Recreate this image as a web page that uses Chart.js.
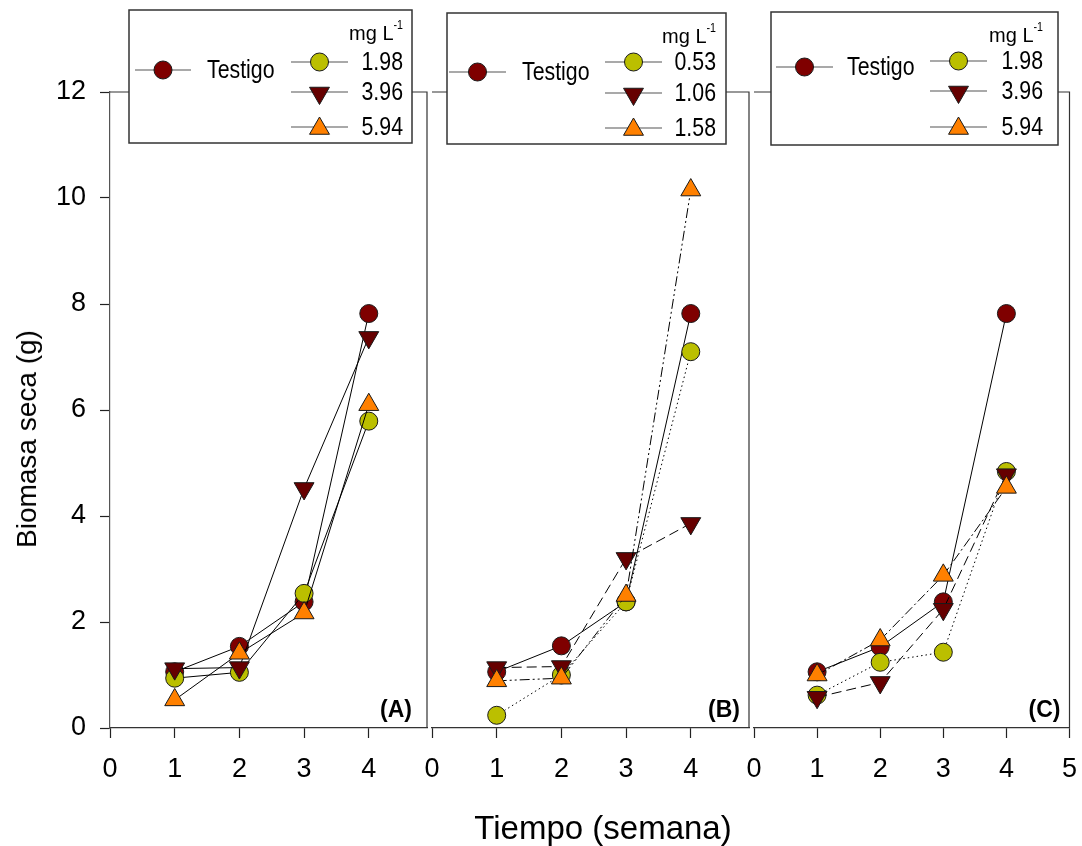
<!DOCTYPE html>
<html><head><meta charset="utf-8">
<script src="https://cdn.jsdelivr.net/npm/chart.js@4.4.1/dist/chart.umd.min.js"></script>
<style>
html,body{margin:0;padding:0;background:#fff;width:1082px;height:846px;overflow:hidden;}
#wrap{position:relative;width:1082px;height:846px;background:#fff;}
canvas{position:absolute;left:0;top:0;}
.title{position:absolute;font-family:'Liberation Sans',Arial,sans-serif;color:#000;white-space:nowrap;}
#xt{left:603px;top:828px;font-size:33px;transform:translate(-50%,-50%);}
#yt{left:27px;top:439px;font-size:28px;transform:translate(-50%,-50%) rotate(-90deg);}
</style></head><body>
<div id="wrap">
<canvas id="cA" width="1082" height="846"></canvas>
<canvas id="cB" width="1082" height="846"></canvas>
<canvas id="cC" width="1082" height="846"></canvas>
<div id="xt" class="title">Tiempo (semana)</div>
<div id="yt" class="title">Biomasa seca (g)</div>
</div>
<script>
// ---------- data ----------
const weeks = [1, 2, 3, 4];
const yTicks = [0, 2, 4, 6, 8, 10, 12];
const xTicksAB = [0, 1, 2, 3, 4];
const xTicksC = [0, 1, 2, 3, 4, 5];
const panelLabels = ['(A)', '(B)', '(C)'];
const unitLabel = 'mg L';
const unitSup = '-1';

const labelsA = ['Testigo', '1.98', '3.96', '5.94'];
const labelsB = ['Testigo', '0.53', '1.06', '1.58'];
const labelsC = ['Testigo', '1.98', '3.96', '5.94'];

const testigoA = [1.06, 1.54, 2.38, 7.82];
const a198 = [0.94, 1.05, 2.54, 5.79];
const a396 = [1.12, 1.14, 4.52, 7.37];
const a594 = [0.53, 1.41, 2.17, 6.10];

const testigoB = [1.06, 1.55, 2.38, 7.82];
const b053 = [0.24, 1.00, 2.38, 7.10];
const b106 = [1.14, 1.16, 3.20, 3.86];
const b158 = [0.89, 0.94, 2.50, 10.15];

const testigoC = [1.06, 1.53, 2.38, 7.82];
const c198 = [0.62, 1.24, 1.43, 4.84];
const c396 = [0.58, 0.86, 2.24, 4.78];
const c594 = [1.00, 1.66, 2.88, 4.54];

// ---------- styles ----------
const REG = "'Liberation Sans',Arial,sans-serif";
const NARROW_K = 0.82;
const markerStyles = [
  {shape: 'circle', rot: 0, r: 9, fill: '#7f0000'},
  {shape: 'circle', rot: 0, r: 9, fill: '#bbbf00'},
  {shape: 'triangle', rot: 180, r: 11.5, fill: '#660000'},
  {shape: 'triangle', rot: 0, r: 11.5, fill: '#ff8000'}
];
const DOT = [1.5, 3], DASH = [10, 5], DASHDOTDOT = [10, 3, 2, 3, 2, 3], DASHDOT = [10, 3, 2, 3];

function ds(label, values, idx, dash) {
  const s = markerStyles[idx];
  return {
    label,
    data: weeks.map((w, i) => ({x: w, y: values[i]})),
    showLine: true, fill: false, tension: 0,
    borderColor: '#000', borderWidth: 1, borderDash: dash,
    pointStyle: s.shape, pointRotation: s.rot, pointRadius: s.r, pointHoverRadius: s.r,
    pointBackgroundColor: s.fill, pointBorderColor: '#1a1a1a', pointBorderWidth: 1,
    order: 4 - idx, clip: false
  };
}

function drawMarker(ctx, s, x, y) {
  ctx.save();
  ctx.fillStyle = s.fill; ctx.strokeStyle = '#1a1a1a'; ctx.lineWidth = 1;
  Chart.helpers.drawPoint(ctx, {pointStyle: s.shape, rotation: s.rot, radius: s.r, borderWidth: 1}, x, y);
  ctx.restore();
}

// condensed (Arial-Narrow-like) text
function narrowText(ctx, text, x, y, align, baseline, size, k) {
  const kk = k || NARROW_K;
  ctx.save();
  ctx.translate(x, y);
  ctx.scale(kk, 1);
  ctx.font = size + 'px ' + REG;
  ctx.textAlign = align; ctx.textBaseline = baseline;
  ctx.fillStyle = '#000';
  ctx.fillText(text, 0, 0);
  ctx.restore();
}
function narrowWidth(ctx, text, size, k) {
  const kk = k || NARROW_K;
  ctx.save(); ctx.font = size + 'px ' + REG;
  const w = ctx.measureText(text).width * kk;
  ctx.restore(); return w;
}

const framePlugin = {
  id: 'frame',
  afterDraw(chart, args, opts) {
    const {ctx, chartArea: a} = chart;
    ctx.save();
    ctx.strokeStyle = '#333'; ctx.lineWidth = 1.2;
    ctx.beginPath();
    ctx.moveTo(a.left, a.top); ctx.lineTo(a.right, a.top); ctx.lineTo(a.right, a.bottom);
    ctx.stroke();
    // panel label
    ctx.fillStyle = '#000';
    ctx.font = 'bold 23px ' + REG;
    ctx.textAlign = 'right'; ctx.textBaseline = 'alphabetic';
    ctx.fillText(opts.label, a.right - opts.labelDx, a.bottom - 11);
    // legend
    const L = opts.legend;
    ctx.fillStyle = '#fff';
    ctx.fillRect(L.x, L.y, L.w, L.h);
    ctx.strokeStyle = '#333'; ctx.lineWidth = 1.5;
    ctx.strokeRect(L.x, L.y, L.w, L.h);
    const dsets = chart.data.datasets;
    ctx.strokeStyle = '#555'; ctx.lineWidth = 1.2;
    // Testigo
    ctx.beginPath();
    ctx.moveTo(L.x + L.t0, L.y + L.ty); ctx.lineTo(L.x + L.t1, L.y + L.ty); ctx.stroke();
    drawMarker(ctx, markerStyles[0], L.x + (L.t0 + L.t1) / 2, L.y + L.ty);
    narrowText(ctx, dsets[0].label, L.x + L.tx, L.y + L.ty + 1, 'left', 'middle', 26);
    // right column
    for (let i = 1; i < 4; i++) {
      const yy = L.y + L.rows[i - 1];
      ctx.strokeStyle = '#555'; ctx.lineWidth = 1.2;
      ctx.beginPath(); ctx.moveTo(L.x + L.c0, yy); ctx.lineTo(L.x + L.c1, yy); ctx.stroke();
      drawMarker(ctx, markerStyles[i], L.x + (L.c0 + L.c1) / 2, yy + (i === 2 ? 1 : (i === 3 ? 1.5 : 0)));
      narrowText(ctx, dsets[i].label, L.x + L.cx, yy + 1, 'right', 'middle', 26);
    }
    // unit header
    const supW = narrowWidth(ctx, unitSup, 13);
    narrowText(ctx, unitSup, L.x + L.cx, L.y + 19, 'right', 'alphabetic', 13);
    narrowText(ctx, unitLabel, L.x + L.cx - supW, L.y + 30, 'right', 'alphabetic', 20, 1);
    ctx.restore();
  }
};

function makePanel(id, datasets, xTicks, xMax, left, right, showY, label, labelDx, legend) {
  const tickFont = {family: REG, size: 27};
  return new Chart(document.getElementById(id), {
    type: 'line',
    data: {datasets},
    options: {
      responsive: false, animation: false, devicePixelRatio: 1, events: [],
      layout: {padding: {left: left, right: 1082 - right, top: 92, bottom: 0}},
      plugins: {legend: {display: false}, tooltip: {enabled: false}, frame: {label, labelDx, legend}},
      scales: {
        x: {
          type: 'linear', min: 0, max: xMax,
          afterBuildTicks: s => { s.ticks = xTicks.map(v => ({value: v})); },
          afterFit: s => { s.height = 118; s.paddingLeft = 0; s.paddingRight = 0; },
          ticks: {font: tickFont, color: '#000', padding: 15, maxRotation: 0, autoSkip: false},
          grid: {drawOnChartArea: false, drawTicks: true, tickLength: 10, tickColor: '#222', tickWidth: 1.2},
          border: {display: true, color: '#333', width: 1.2}
        },
        y: {
          type: 'linear', min: 0, max: 12, display: showY,
          afterBuildTicks: s => { s.ticks = yTicks.map(v => ({value: v})); },
          afterFit: s => { s.width = showY ? 110 : 0; s.paddingTop = 0; s.paddingBottom = 0; },
          ticks: {font: tickFont, color: '#000', padding: 14},
          grid: {drawOnChartArea: false, drawTicks: true, tickLength: 10, tickColor: '#222', tickWidth: 1.2},
          border: {display: true, color: '#555', width: 1.2}
        }
      }
    },
    plugins: [framePlugin]
  });
}

makePanel('cA', [
  ds(labelsA[0], testigoA, 0, []), ds(labelsA[1], a198, 1, []),
  ds(labelsA[2], a396, 2, []), ds(labelsA[3], a594, 3, [])
], xTicksAB, 4.9, 0, 427, true, panelLabels[0], 15,
  {x: 129, y: 10, w: 283, h: 133, t0: 6, t1: 62, ty: 60, tx: 78, c0: 162, c1: 219, cx: 274, rows: [52, 82, 117]});

makePanel('cB', [
  ds(labelsB[0], testigoB, 0, []), ds(labelsB[1], b053, 1, DOT),
  ds(labelsB[2], b106, 2, DASH), ds(labelsB[3], b158, 3, DASHDOTDOT)
], xTicksAB, 4.9, 432, 749, false, panelLabels[1], 9,
  {x: 447, y: 13, w: 279, h: 131, t0: 2, t1: 59, ty: 59, tx: 75, c0: 158, c1: 215, cx: 269, rows: [49, 80, 115]});

makePanel('cC', [
  ds(labelsC[0], testigoC, 0, []), ds(labelsC[1], c198, 1, DOT),
  ds(labelsC[2], c396, 2, DASH), ds(labelsC[3], c594, 3, DASHDOT)
], xTicksC, 5, 754, 1071, false, panelLabels[2], 9,
  {x: 771, y: 12, w: 287, h: 133, t0: 5, t1: 62, ty: 55, tx: 76, c0: 159, c1: 216, cx: 272, rows: [49, 79, 115]});
</script>
</body></html>
